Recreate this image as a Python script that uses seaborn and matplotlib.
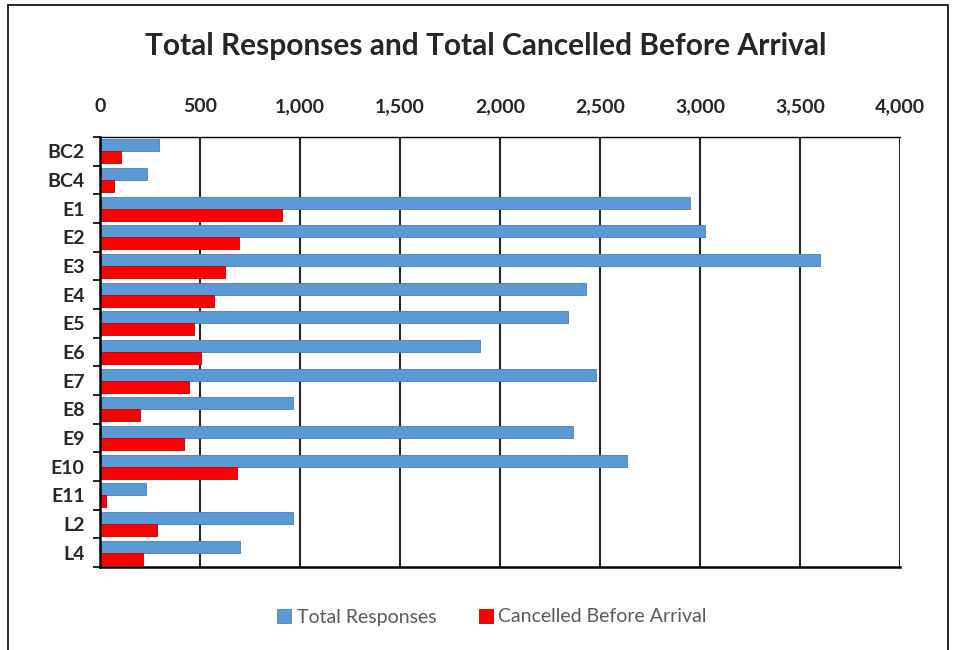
import numpy as np
import pandas as pd
import matplotlib.pyplot as plt
import seaborn as sns
from matplotlib.patches import Rectangle

# Data
stations = ['BC2', 'BC4', 'E1', 'E2', 'E3', 'E4', 'E5', 'E6', 'E7', 'E8',
            'E9', 'E10', 'E11', 'L2', 'L4']
total_responses = [295, 235, 2950, 3025, 3600, 2430, 2340, 1900, 2480, 965,
                   2365, 2635, 228, 965, 702]
cancelled = [105, 68, 910, 695, 625, 572, 470, 505, 443, 200,
             420, 685, 32, 285, 215]
series_names = ['Total Responses', 'Cancelled Before Arrival']
x_ticks = [0, 500, 1000, 1500, 2000, 2500, 3000, 3500, 4000]

df = pd.DataFrame({
    'station': stations * 2,
    'value': total_responses + cancelled,
    'series': [series_names[0]] * len(stations) + [series_names[1]] * len(stations),
})

sns.set_style('white')
plt.rcParams['font.family'] = ['Lato', 'DejaVu Sans']

fig = plt.figure(figsize=(9.54, 6.5), dpi=100)
ax = fig.add_axes([100 / 954, 1 - 567 / 650, 800 / 954, 430 / 650])

palette = {series_names[0]: '#5B9BD5', series_names[1]: '#FF0000'}
sns.barplot(data=df, y='station', x='value', hue='series', orient='h',
            palette=palette, width=0.84, saturation=1, ax=ax,
            edgecolor='#4A7EB0', linewidth=0.6)
for bar in ax.patches:
    if bar.get_facecolor()[0] > 0.9:
        bar.set_edgecolor('#C00000')

ax.set_xlim(0, 4000)
ax.set_ylim(len(stations) - 0.5, -0.5)
ax.xaxis.tick_top()
ax.set_xticks(x_ticks)
ax.set_xticklabels([f'{v:,}' for v in x_ticks], fontsize=14, fontweight='bold')
ax.tick_params(axis='x', length=0, pad=16)
ax.set_yticks(range(len(stations)))
ax.set_yticklabels(stations, fontsize=14, fontweight='bold')
ax.set_yticks(np.arange(-0.5, len(stations), 1), minor=True)
ax.tick_params(axis='y', which='major', length=0, pad=11)
ax.tick_params(axis='y', which='minor', length=5, width=1.2, color='black', direction='out', left=True)
ax.set_xlabel('')
ax.set_ylabel('')

ax.grid(axis='x', color='#262626', linewidth=1.5)
ax.set_axisbelow(True)
for side in ['left', 'bottom']:
    ax.spines[side].set_color('black')
    ax.spines[side].set_linewidth(1.8)
ax.spines['top'].set_color('black')
ax.spines['top'].set_linewidth(1.0)
ax.spines['right'].set_visible(False)

handles, labels = ax.get_legend_handles_labels()
ax.legend_.remove()
fig.legend(handles, labels, loc='center', bbox_to_anchor=(492 / 954, 1 - 617 / 650),
           ncol=2, frameon=False, fontsize=14, handlelength=0.7, handleheight=0.7,
           columnspacing=2.2, handletextpad=0.3, labelcolor='#595959')

fig.text(486 / 954, 1 - 46 / 650, 'Total Responses and Total Cancelled Before Arrival',
         ha='center', va='center', fontsize=21.5, fontweight='bold')

fig.patches.append(Rectangle((8 / 954, -0.01), 940 / 954, 1 - 5 / 650 + 0.01,
                             transform=fig.transFigure, fill=False,
                             edgecolor='black', linewidth=1.2))

fig.savefig('out.png', dpi=100)
